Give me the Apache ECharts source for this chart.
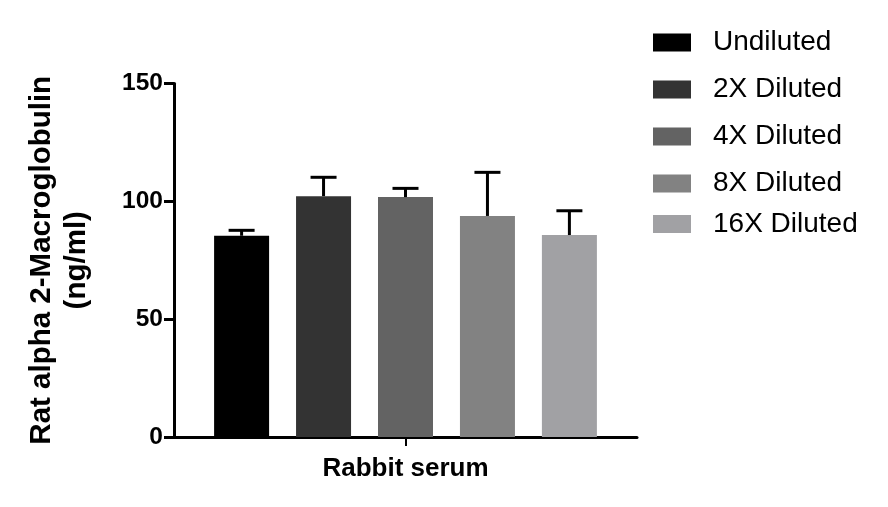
<!DOCTYPE html>
<html>
<head>
<meta charset="utf-8">
<script src="https://cdn.jsdelivr.net/npm/echarts@6/dist/echarts.min.js"></script>
<style>html,body{margin:0;padding:0;background:#fff;}#c{width:888px;height:507px;}</style>
</head>
<body>
<div id="c"></div>
<script>
const categories = ['Rabbit serum'];
const seriesNames = ['Undiluted', '2X Diluted', '4X Diluted', '8X Diluted', '16X Diluted'];
const means = [85.4, 102.2, 101.8, 93.8, 85.7];
const sdUpper = [2.3, 8.0, 3.7, 18.5, 10.3];
const yMin = 0, yMax = 150, yInterval = 50;

const colors = ['#000000', '#333333', '#636363', '#828282', '#a1a1a4'];
const BAR_W = 55, GAP = 0.49;
const FONT = "'Liberation Sans', Arial, sans-serif";

const chart = echarts.init(document.getElementById('c'));

const barSeries = seriesNames.map((name, i) => ({
  name: name,
  type: 'bar',
  data: [means[i]],
  barWidth: BAR_W,
  barGap: (GAP * 100) + '%',
  itemStyle: { color: colors[i] },
  z: 2
}));

const errData = seriesNames.map((n, i) => [0, means[i], means[i] + sdUpper[i], i]);
const totalW = seriesNames.length * BAR_W + (seriesNames.length - 1) * GAP * BAR_W;

const errSeries = {
  type: 'custom',
  name: 'err',
  data: errData,
  z: 5,
  renderItem: function (params, api) {
    const idx = api.value(3);
    const c0 = api.coord([api.value(0), api.value(1)]);
    const c1 = api.coord([api.value(0), api.value(2)]);
    const x = c0[0] - totalW / 2 + BAR_W / 2 + idx * BAR_W * (1 + GAP);
    const st = { stroke: '#000', lineWidth: 3 };
    return {
      type: 'group',
      children: [
        { type: 'line', shape: { x1: x, y1: c0[1], x2: x, y2: c1[1] }, style: st },
        { type: 'line', shape: { x1: x - 13, y1: c1[1], x2: x + 13, y2: c1[1] }, style: st }
      ]
    };
  }
};

const legendText = { fontFamily: FONT, fontSize: 28, color: '#000', lineHeight: 30, padding: [0, 0, 0, 17] };

chart.setOption({
  animation: false,
  backgroundColor: '#fff',
  grid: { left: 174, top: 83.5, bottom: 70, right: 251, containLabel: false },
  legend: [
    {
      data: seriesNames.slice(0, 4),
      orient: 'vertical', left: 653, top: 27.5, padding: 0,
      itemWidth: 38, itemHeight: 18, itemGap: 17, icon: 'rect',
      textStyle: legendText, selectedMode: false
    },
    {
      data: seriesNames.slice(4),
      orient: 'vertical', left: 653, top: 209, padding: 0,
      itemWidth: 38, itemHeight: 18, itemGap: 17, icon: 'rect',
      textStyle: legendText, selectedMode: false
    }
  ],
  xAxis: {
    type: 'category',
    data: categories,
    axisLine: { lineStyle: { color: '#000', width: 3 } },
    axisTick: { show: true, alignWithLabel: true, length: 9, lineStyle: { color: '#000', width: 2 } },
    axisLabel: { color: '#000', fontFamily: FONT, fontWeight: 'bold', fontSize: 26, margin: 19 },
    splitLine: { show: false }
  },
  yAxis: {
    type: 'value',
    min: yMin, max: yMax, interval: yInterval,
    name: 'Rat alpha 2-Macroglobulin\n(ng/ml)',
    nameLocation: 'middle',
    nameRotate: 90,
    nameGap: 80,
    nameTextStyle: { color: '#000', fontFamily: FONT, fontWeight: 'bold', fontSize: 29.5, lineHeight: 35 },
    axisLine: { show: true, lineStyle: { color: '#000', width: 3 } },
    axisTick: { show: true, length: 10, lineStyle: { color: '#000', width: 3 } },
    axisLabel: { color: '#000', fontFamily: FONT, fontWeight: 'bold', fontSize: 24.5, margin: 11 },
    splitLine: { show: false }
  },
  series: barSeries.concat([errSeries])
});
</script>
</body>
</html>
